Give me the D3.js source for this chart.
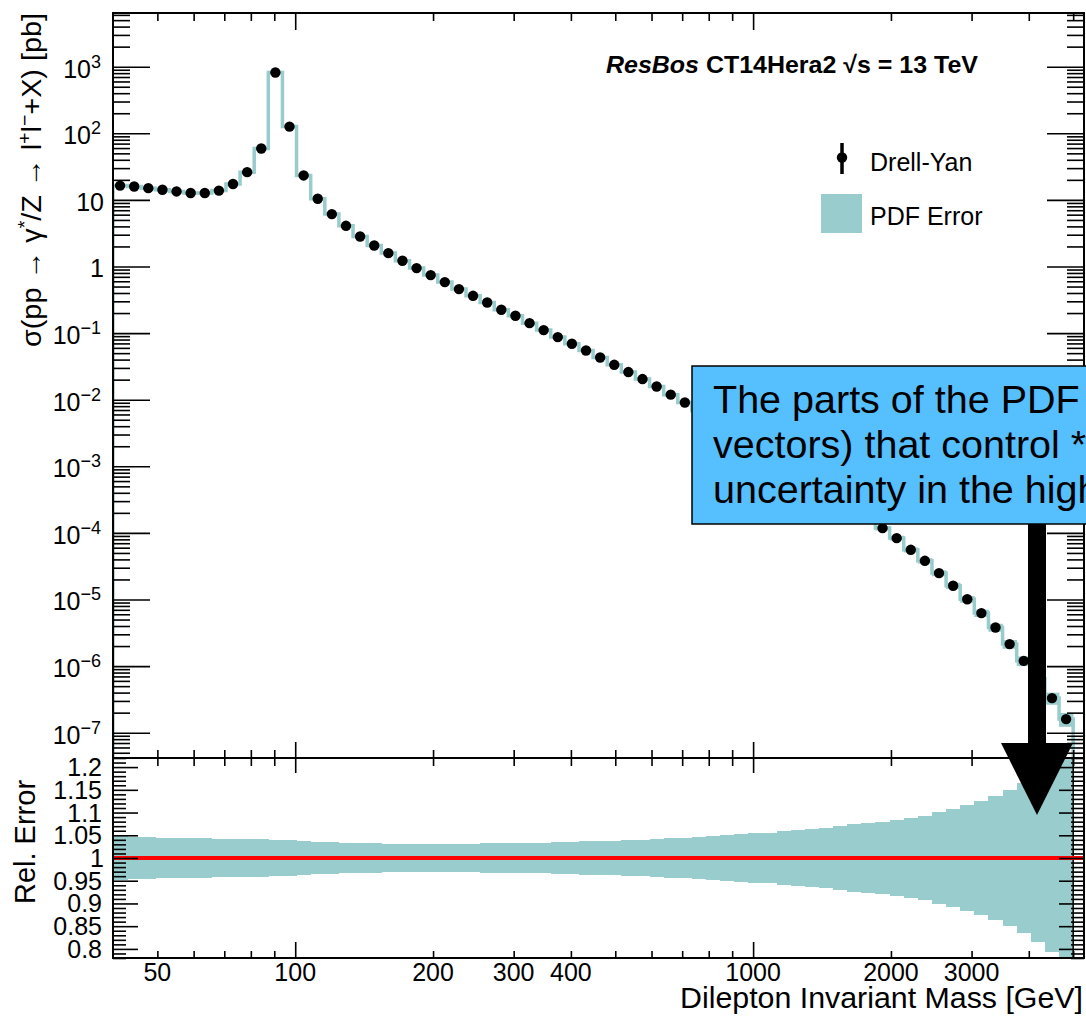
<!DOCTYPE html>
<html>
<head>
<meta charset="utf-8">
<script src="https://cdn.jsdelivr.net/npm/d3@7"></script>
<style>
  html, body { margin: 0; padding: 0; background: #fff; }
  svg { display: block; font-family: "Liberation Sans", Arial, Helvetica, sans-serif; }
</style>
</head>
<body>
<svg id="chart" width="1086" height="1017"></svg>
<script>
// Histogram binning: log-uniform bins in dilepton mass [GeV]
const nBins = 68;
const massLow = 40;
const massHigh = 5000;

// Drell-Yan cross section per bin [pb]
const xsec = [
  16.4, 15.9, 15.0, 14.2, 13.4, 12.7, 12.7, 13.8, 17.3, 26.1,
  59.2, 818, 126, 23.3, 10.4, 6.12, 4.08, 2.82, 2.07, 1.59,
  1.22, 0.946, 0.743, 0.583, 0.458, 0.363, 0.288, 0.224, 0.182, 0.141,
  0.111, 0.0871, 0.0691, 0.0548, 0.0430, 0.0334, 0.0260, 0.0204, 0.0158, 0.0119,
  9.08e-3, 6.81e-3, 5.08e-3, 3.79e-3, 2.82e-3, 2.09e-3, 1.54e-3, 1.14e-3, 8.33e-4, 6.10e-4,
  4.44e-4, 3.22e-4, 2.32e-4, 1.66e-4, 1.18e-4, 8.36e-5, 5.57e-5, 3.81e-5, 2.49e-5, 1.61e-5,
  1.01e-5, 6.25e-6, 3.80e-6, 2.14e-6, 1.20e-6, 6.44e-7, 3.31e-7, 1.60e-7
];

// Relative PDF uncertainty per bin (half-width of the band)
const relErr = [
  0.048, 0.047, 0.046, 0.045, 0.045, 0.044, 0.043, 0.042, 0.042, 0.041,
  0.041, 0.040, 0.039, 0.038, 0.036, 0.035, 0.034, 0.033, 0.032, 0.031,
  0.031, 0.030, 0.030, 0.030, 0.031, 0.031, 0.032, 0.032, 0.033, 0.034,
  0.034, 0.035, 0.036, 0.037, 0.037, 0.038, 0.039, 0.040, 0.042, 0.043,
  0.045, 0.046, 0.048, 0.050, 0.052, 0.054, 0.056, 0.059, 0.061, 0.064,
  0.067, 0.070, 0.074, 0.077, 0.080, 0.083, 0.088, 0.093, 0.101, 0.108,
  0.116, 0.126, 0.137, 0.150, 0.166, 0.185, 0.207, 0.235
];

// Axis definitions
const xRange = [40, 5280];
const xMajorTicks = [100, 1000];
const xMinorTicks = [50, 60, 70, 80, 90, 200, 300, 400, 500, 600, 700, 800, 900, 2000, 3000, 4000, 5000];
const xTickLabels = [50, 100, 200, 300, 400, 1000, 2000, 3000];
const yRange = [4.17e-8, 6400];
const yDecadeExponents = [-7, -6, -5, -4, -3, -2, -1, 0, 1, 2, 3];
const ratioRange = [0.78, 1.22];
const ratioMajorTicks = [0.8, 0.85, 0.9, 0.95, 1, 1.05, 1.1, 1.15, 1.2];
const ratioTickLabels = ["0.8", "0.85", "0.9", "0.95", "1", "1.05", "1.1", "1.15", "1.2"];

const titleText = "CT14Hera2";
const legendLabels = ["Drell-Yan", "PDF Error"];
const noteLines = ["The parts of the PDF", "vectors) that control *", "uncertainty in the high"];

// Layout
const L = 113, R = 1084, T = 13, M = 758, B = 958;
const bandColor = "#99cccc";

const svg = d3.select("#chart");

const x = d3.scaleLog().domain(xRange).range([L, R]);
const yTop = d3.scaleLog().domain(yRange).range([M, T]);
const yRat = d3.scaleLinear().domain(ratioRange).range([B, M]);

const binEdges = d3.range(nBins + 1).map(k => massLow * Math.pow(massHigh / massLow, k / nBins));
const bins = xsec.map((v, i) => ({
  lo: binEdges[i], hi: binEdges[i + 1], c: Math.sqrt(binEdges[i] * binEdges[i + 1]), v, e: relErr[i]
}));

const defs = svg.append("defs");
defs.append("clipPath").attr("id", "clipTop")
  .append("rect").attr("x", L).attr("y", T).attr("width", R - L).attr("height", M - T);
defs.append("clipPath").attr("id", "clipBot")
  .append("rect").attr("x", L).attr("y", M).attr("width", R - L).attr("height", B - M);

// ---------- upper panel: cross section ----------
const upper = svg.append("g").attr("clip-path", "url(#clipTop)");

upper.selectAll("rect.err").data(bins).join("rect")
  .attr("class", "err")
  .attr("x", d => x(d.lo))
  .attr("width", d => x(d.hi) - x(d.lo) + 0.3)
  .attr("y", d => yTop(d.v * (1 + d.e)))
  .attr("height", d => yTop(d.v * (1 - d.e)) - yTop(d.v * (1 + d.e)))
  .attr("fill", bandColor);

let stepPath = `M${x(bins[0].lo)},${M + 5}`;
bins.forEach(d => {
  stepPath += `V${yTop(d.v)}H${x(d.hi)}`;
});
stepPath += `V${M + 5}`;
upper.append("path").attr("d", stepPath)
  .attr("fill", "none").attr("stroke", bandColor).attr("stroke-width", 3.5);

upper.selectAll("circle.pt").data(bins).join("circle")
  .attr("class", "pt")
  .attr("cx", d => x(d.c)).attr("cy", d => yTop(d.v)).attr("r", 5.2)
  .attr("fill", "#000");

// ---------- lower panel: relative error ----------
const lower = svg.append("g").attr("clip-path", "url(#clipBot)");
lower.selectAll("rect.rel").data(bins).join("rect")
  .attr("class", "rel")
  .attr("x", d => x(d.lo))
  .attr("width", d => x(d.hi) - x(d.lo) + 0.4)
  .attr("y", d => yRat(1 + d.e))
  .attr("height", d => yRat(1 - d.e) - yRat(1 + d.e))
  .attr("fill", bandColor)
  .attr("shape-rendering", "crispEdges");
lower.append("line")
  .attr("x1", x(massHigh)).attr("x2", x(massHigh)).attr("y1", M).attr("y2", B)
  .attr("stroke", "#000").attr("stroke-width", 1.5);
lower.append("line")
  .attr("x1", L).attr("x2", R).attr("y1", yRat(1)).attr("y2", yRat(1))
  .attr("stroke", "#ff0000").attr("stroke-width", 4);

// ---------- ticks ----------
function ticks(axisGen, tx, ty, vals, len) {
  const g = svg.append("g").attr("transform", `translate(${tx},${ty})`)
    .call(axisGen.tickValues(vals).tickSize(-len).tickFormat(""));
  g.select(".domain").remove();
  g.selectAll("line").attr("stroke", "#000").attr("stroke-width", 1.6);
  return g;
}
// x ticks on all four horizontal edges
ticks(d3.axisTop(x), 0, T, xMinorTicks, 8);
ticks(d3.axisTop(x), 0, T, xMajorTicks, 17);
ticks(d3.axisBottom(x), 0, M, xMinorTicks, 8);
ticks(d3.axisBottom(x), 0, M, xMajorTicks, 16);
ticks(d3.axisTop(x), 0, M, xMinorTicks, 8);
ticks(d3.axisTop(x), 0, M, xMajorTicks, 15);
ticks(d3.axisBottom(x), 0, B, xMinorTicks, 7);
ticks(d3.axisBottom(x), 0, B, xMajorTicks, 16);

// y ticks, upper panel (log)
const yMajor = yDecadeExponents.map(e => Math.pow(10, e));
const yMinor = [];
for (let e = -8; e <= 3; e++) {
  for (let m = 2; m <= 9; m++) {
    const v = m * Math.pow(10, e);
    if (v >= yRange[0] && v <= yRange[1]) yMinor.push(v);
  }
}
ticks(d3.axisLeft(yTop), L, 0, yMinor, 17);
ticks(d3.axisLeft(yTop), L, 0, yMajor, 37);
ticks(d3.axisRight(yTop), R, 0, yMinor, 17);
ticks(d3.axisRight(yTop), R, 0, yMajor, 37);

// y ticks, lower panel (linear)
const ratMinor = d3.range(78, 123).map(k => k / 100).filter(v => Math.round(v * 100) % 5 !== 0);
ticks(d3.axisLeft(yRat), L, 0, ratMinor, 13);
ticks(d3.axisLeft(yRat), L, 0, ratioMajorTicks, 25);
ticks(d3.axisRight(yRat), R, 0, ratMinor, 13);
ticks(d3.axisRight(yRat), R, 0, ratioMajorTicks, 25);

// frames
[[T, M], [M, B]].forEach(([a, b]) => {
  svg.append("rect").attr("x", L).attr("y", a).attr("width", R - L).attr("height", b - a)
    .attr("fill", "none").attr("stroke", "#000").attr("stroke-width", 2);
});

// ---------- tick labels ----------
const labelSize = 25;
svg.append("g").selectAll("text").data(xTickLabels).join("text")
  .attr("x", d => x(d)).attr("y", 981)
  .attr("text-anchor", "middle").attr("font-size", labelSize)
  .text(d => d);

const yLab = svg.append("g").attr("font-size", labelSize).attr("text-anchor", "end");
yDecadeExponents.forEach(e => {
  const yy = yTop(Math.pow(10, e)) + 11;
  if (e === 0 || e === 1) {
    yLab.append("text").attr("x", 104).attr("y", yy).text(e === 0 ? "1" : "10");
  } else {
    const t = yLab.append("text").attr("x", 101).attr("y", yy);
    t.append("tspan").text("10");
    t.append("tspan").attr("dy", -10).attr("font-size", 18)
      .text(e < 0 ? "\u2212" + (-e) : String(e));
  }
});

svg.append("g").attr("font-size", labelSize).attr("text-anchor", "end")
  .selectAll("text").data(ratioMajorTicks).join("text")
  .attr("x", (d, i) => ratioTickLabels[i] === "1" ? 104 : 102)
  .attr("y", d => yRat(d) + 9)
  .text((d, i) => ratioTickLabels[i]);

// ---------- axis titles ----------
svg.append("text")
  .attr("x", 1083).attr("y", 1008).attr("text-anchor", "end").attr("font-size", 30)
  .attr("textLength", 403).attr("lengthAdjust", "spacingAndGlyphs")
  .text("Dilepton Invariant Mass [GeV]");

svg.append("text")
  .attr("transform", "translate(35,842) rotate(-90)")
  .attr("text-anchor", "middle").attr("font-size", 29)
  .text("Rel. Error");

const yt = svg.append("text")
  .attr("transform", "translate(41,13) rotate(-90)")
  .attr("text-anchor", "end").attr("font-size", 28)
  .attr("textLength", 334).attr("lengthAdjust", "spacingAndGlyphs");
yt.append("tspan").text("\u03c3(pp \u2192 \u03b3");
yt.append("tspan").attr("dy", -10).attr("font-size", 19).text("*");
yt.append("tspan").attr("dy", 10).text("/Z \u2192 l");
yt.append("tspan").attr("dy", -10).attr("font-size", 19).text("+");
yt.append("tspan").attr("dy", 10).text("l");
yt.append("tspan").attr("dy", -10).attr("font-size", 19).text("\u2212");
yt.append("tspan").attr("dy", 10).text("+X) [pb]");

// ---------- title ----------
const title = svg.append("text")
  .attr("x", 606).attr("y", 73).attr("font-size", 24).attr("font-weight", "bold")
  .attr("textLength", 372).attr("lengthAdjust", "spacingAndGlyphs");
title.append("tspan").attr("font-style", "italic").text("ResBos");
title.append("tspan").text(" " + titleText + " \u221As = 13 TeV");

// ---------- legend ----------
svg.append("line").attr("x1", 842).attr("x2", 842).attr("y1", 143).attr("y2", 174)
  .attr("stroke", "#000").attr("stroke-width", 3.5);
svg.append("circle").attr("cx", 842).attr("cy", 157.5).attr("r", 5.2).attr("fill", "#000");
svg.append("rect").attr("x", 821).attr("y", 194).attr("width", 41).attr("height", 39).attr("fill", bandColor);
svg.append("g").attr("font-size", 25).selectAll("text").data(legendLabels).join("text")
  .attr("x", 870).attr("y", (d, i) => [171, 225][i]).text(d => d);

// ---------- annotation ----------
svg.append("rect").attr("x", 692).attr("y", 366).attr("width", 500).attr("height", 158)
  .attr("fill", "#56bffe").attr("stroke", "#000").attr("stroke-width", 1.5);
svg.append("g").attr("font-size", 39.5).selectAll("text").data(noteLines).join("text")
  .attr("x", 713).attr("y", (d, i) => 413 + i * 45).text(d => d);

svg.append("path")
  .attr("d", "M1028,524 H1046 V743 H1073 L1037,815 L1001,743 H1028 Z")
  .attr("fill", "#000");
</script>
</body>
</html>
